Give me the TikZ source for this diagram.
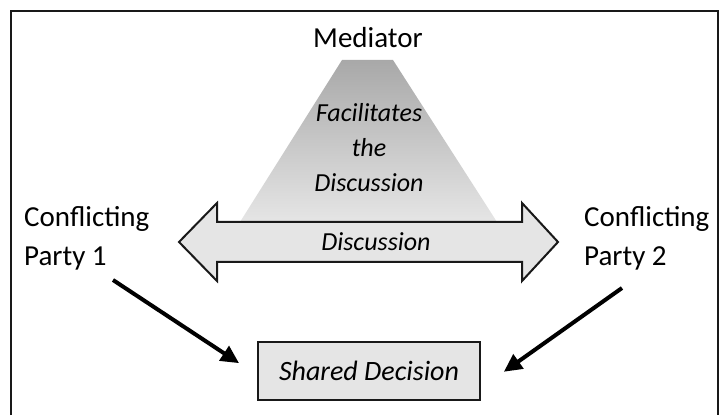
\documentclass[tikz,border=0pt]{standalone}
\usepackage{fontspec}
\setmainfont{Carlito}
\usetikzlibrary{arrows.meta}

\begin{document}
\begin{tikzpicture}
[
x=1pt,y=1pt,
party/.style={align=left,anchor=north west,inner sep=0pt,font=\fontsize{29}{39}\selectfont},
slanted/.style={align=center,inner sep=0pt,font=\fontsize{26}{35}\selectfont\itshape},
outline/.style={draw=black!90,line width=2pt,fill=black!10},
push/.style 2 args={line width=4pt,-{Triangle[length=18pt,width=17pt]},shorten >=#1pt,shorten <=#2pt},
]
\useasboundingbox (0,0) rectangle (720,415);

%Frame, the mediator's beam and the two-way arrow
\draw[line width=2pt,black!90] (11,0) -- (11,404) -- (718,404) -- (718,0);
\shade[top color=black!34,middle color=black!19,bottom color=black!10] (342,355) -- (393,355) -- (497,193) -- (240,193) -- cycle;
\filldraw[outline,line join=miter] (179,173) -- (217,212) -- (217,193) -- (522,193) -- (522,212) -- (558,173)
      -- (522,134) -- (522,153) -- (217,153) -- (217,134) -- cycle;

%Place the nodes
\node[inner sep=0pt,font=\fontsize{29}{34}\selectfont] (mediator) at (368,377) {Mediator};
\node[slanted] (facilitates) at (369,267) {Facilitates\\the\\Discussion};
\node[slanted] (discussion) at (376,173) {Discussion};
\node[party] (party1) at (24,209) {Conflicting\\Party 1};
\node[party] (party2) at (584,209) {Conflicting\\Party 2};
\node[outline,slanted,font=\fontsize{28}{34}\selectfont\itshape,minimum width=222pt,minimum height=58pt] (decision) at (369,44) {Shared Decision};
\coordinate (tail1) at (113,135);
\coordinate (tail2) at (622,127);

%Draw the connections
\draw[push={21.5}{0}] (tail1) -- ([yshift=-4pt]decision.west);
\draw[push={28}{0}] (tail2) -- ([yshift=-17pt]decision.east);
\end{tikzpicture}
\end{document}
